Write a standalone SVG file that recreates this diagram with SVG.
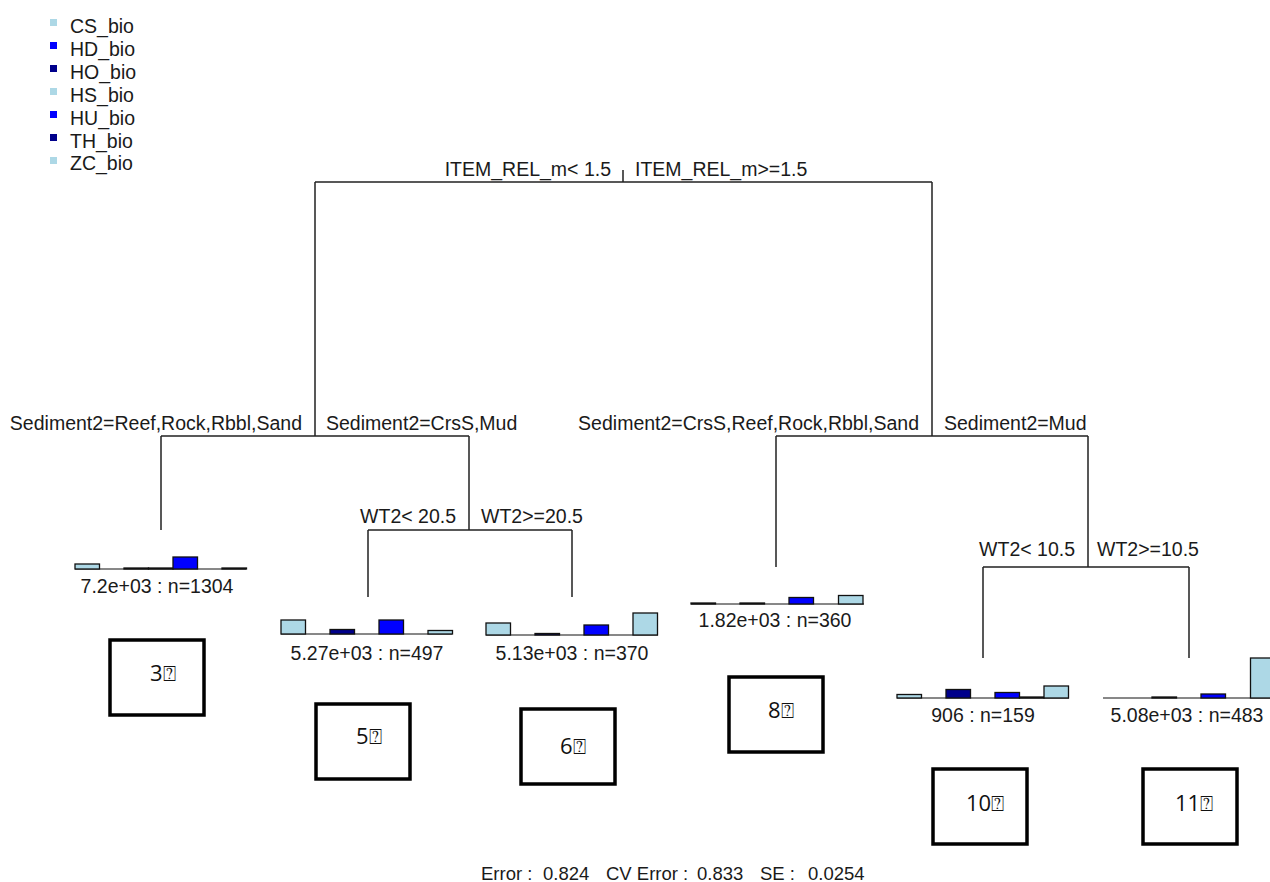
<svg xmlns="http://www.w3.org/2000/svg" width="1270" height="882" viewBox="0 0 1270 882">
<style>
text{font-family:"Liberation Sans",Arial,sans-serif;font-size:19.5px;fill:#1a1a1a}
.e{text-anchor:end}.m{text-anchor:middle}
.br{stroke:#222;stroke-width:1.5;fill:none}
.base{stroke:#111;stroke-width:1}
.bar{stroke:#111;stroke-width:1.3}
.lb{fill:#ADD8E6}.bl{fill:#0000FF}.nv{fill:#00008B}
.box{fill:#fff;stroke:#000;stroke-width:3.5}
.bt{font-family:"Open Sans","Noto Sans","DejaVu Sans",sans-serif;font-size:22px;fill:#111}
.ft{font-size:18.5px}
</style>
<rect width="1270" height="882" fill="#fff"/>
<g id="legend">
<rect class="lb" x="50" y="19" width="7" height="7"/><text x="70" y="33">CS_bio</text>
<rect class="bl" x="50" y="42" width="7" height="7"/><text x="70" y="56">HD_bio</text>
<rect class="nv" x="50" y="65" width="7" height="7"/><text x="70" y="79">HO_bio</text>
<rect class="lb" x="50" y="88" width="7" height="7"/><text x="70" y="102">HS_bio</text>
<rect class="bl" x="50" y="111" width="7" height="7"/><text x="70" y="125">HU_bio</text>
<rect class="nv" x="50" y="134" width="7" height="7"/><text x="70" y="148">TH_bio</text>
<rect class="lb" x="50" y="157" width="7" height="7"/><text x="70" y="170">ZC_bio</text>
</g>
<g id="connectors">
<path class="br" d="M623,170V182M315,182H932M315,182V436M932,182V436"/>
<path class="br" d="M161,436H469M161,436V530M469,436V530M368,530H572M368,530V597M572,530V597"/>
<path class="br" d="M776,436H1088M776,436V567M1088,436V567M983,567H1189M983,567V658M1189,567V658"/>
</g>
<g id="split-labels">
<text class="e" x="611" y="176">ITEM_REL_m&lt; 1.5</text>
<text x="635" y="176">ITEM_REL_m&gt;=1.5</text>
<text class="e" x="302" y="430">Sediment2=Reef,Rock,Rbbl,Sand</text>
<text x="326" y="430">Sediment2=CrsS,Mud</text>
<text class="e" x="919" y="430">Sediment2=CrsS,Reef,Rock,Rbbl,Sand</text>
<text x="944" y="430">Sediment2=Mud</text>
<text class="e" x="456" y="523">WT2&lt; 20.5</text>
<text x="481" y="523">WT2&gt;=20.5</text>
<text class="e" x="1075" y="556">WT2&lt; 10.5</text>
<text x="1097" y="556">WT2&gt;=10.5</text>
</g>
<g id="leaf3">
<line class="base" x1="75" y1="569" x2="246" y2="569"/>
<rect class="bar lb" x="75" y="564" width="24.5" height="5"/>
<rect class="bar nv" x="124" y="568" width="24.5" height="1"/>
<rect class="bar lb" x="148.5" y="568" width="24.5" height="1"/>
<rect class="bar bl" x="173" y="557" width="24.5" height="12"/>
<rect class="bar lb" x="222" y="568" width="24.5" height="1"/>
<text class="m" x="157" y="593">7.2e+03 : n=1304</text>
</g>
<g id="leaf5">
<line class="base" x1="281" y1="634" x2="452" y2="634"/>
<rect class="bar lb" x="281" y="620" width="24.5" height="14"/>
<rect class="bar nv" x="330" y="629.5" width="24.5" height="4.5"/>
<rect class="bar bl" x="379" y="620" width="24.5" height="14"/>
<rect class="bar lb" x="428" y="630.5" width="24.5" height="3.5"/>
<text class="m" x="367" y="660">5.27e+03 : n=497</text>
</g>
<g id="leaf6">
<line class="base" x1="486" y1="635" x2="658" y2="635"/>
<rect class="bar lb" x="486" y="623" width="24.5" height="12"/>
<rect class="bar nv" x="535" y="633.5" width="24.5" height="1.5"/>
<rect class="bar bl" x="584" y="625" width="24.5" height="10"/>
<rect class="bar lb" x="633" y="613" width="24.5" height="22"/>
<text class="m" x="572" y="660">5.13e+03 : n=370</text>
</g>
<g id="leaf8">
<line class="base" x1="691" y1="604" x2="864" y2="604"/>
<rect class="bar lb" x="691" y="603" width="24.5" height="1"/>
<rect class="bar nv" x="740" y="603" width="24.5" height="1"/>
<rect class="bar bl" x="789" y="597.5" width="24.5" height="6.5"/>
<rect class="bar lb" x="838.5" y="595.5" width="24.5" height="8.5"/>
<text class="m" x="775" y="627">1.82e+03 : n=360</text>
</g>
<g id="leaf10">
<line class="base" x1="897" y1="698" x2="1069" y2="698"/>
<rect class="bar lb" x="897" y="694.5" width="24.5" height="3.5"/>
<rect class="bar nv" x="946" y="689.5" width="24.5" height="8.5"/>
<rect class="bar bl" x="995" y="692.5" width="24.5" height="5.5"/>
<rect class="bar nv" x="1019.5" y="697" width="24.5" height="1"/>
<rect class="bar lb" x="1044" y="686" width="24.5" height="12"/>
<text class="m" x="983" y="722">906 : n=159</text>
</g>
<g id="leaf11">
<line class="base" x1="1103" y1="698" x2="1276" y2="698"/>
<rect class="bar nv" x="1152" y="697" width="24.5" height="1"/>
<rect class="bar bl" x="1201" y="694" width="24.5" height="4"/>
<rect class="bar lb" x="1250.5" y="658" width="24.5" height="40"/>
<text class="m" x="1187" y="722">5.08e+03 : n=483</text>
</g>
<g id="box3"><rect class="box" x="110" y="640" width="94" height="75"/><text class="bt" x="150" y="681">3⍰</text></g>
<g id="box5"><rect class="box" x="316" y="704" width="94" height="75"/><text class="bt" x="356" y="744">5⍰</text></g>
<g id="box6"><rect class="box" x="521" y="709" width="94" height="75"/><text class="bt" x="560" y="754">6⍰</text></g>
<g id="box8"><rect class="box" x="729" y="677" width="94" height="75"/><text class="bt" x="768" y="718">8⍰</text></g>
<g id="box10"><rect class="box" x="933" y="769" width="94" height="75"/><text class="bt" x="966" y="811">10⍰</text></g>
<g id="box11"><rect class="box" x="1143" y="769" width="94" height="75"/><text class="bt" x="1175" y="811">11⍰</text></g>
<g id="footer">
<text class="ft" x="481" y="880">Error :</text><text class="ft" x="543" y="880">0.824</text>
<text class="ft" x="606" y="880">CV Error :</text><text class="ft" x="697" y="880">0.833</text>
<text class="ft" x="760" y="880">SE :</text><text class="ft" x="808" y="880">0.0254</text>
</g>
</svg>
